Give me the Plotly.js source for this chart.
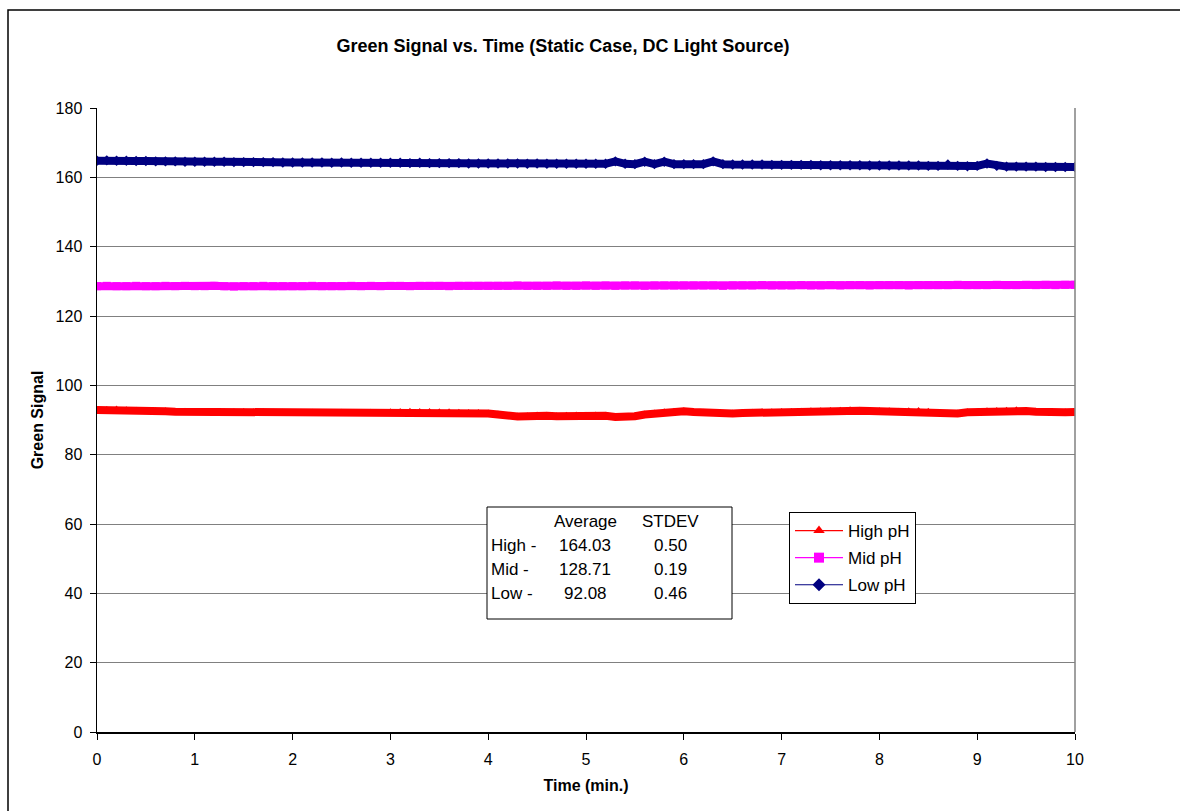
<!DOCTYPE html>
<html>
<head>
<meta charset="utf-8">
<script src="https://cdn.plot.ly/plotly-3.0.1.min.js"></script>
<style>html,body{margin:0;padding:0;background:#fff;}#chart{width:1180px;height:811px;}</style>
</head>
<body>
<div id="chart"></div>
<script>
// Time in minutes
const timeMin = [
0.0,0.1,0.2,0.3,0.4,0.5,0.6,0.7,0.8,0.9,1.0,
1.1,1.2,1.3,1.4,1.5,1.6,1.7,1.8,1.9,2.0,
2.1,2.2,2.3,2.4,2.5,2.6,2.7,2.8,2.9,3.0,
3.1,3.2,3.3,3.4,3.5,3.6,3.7,3.8,3.9,4.0,
4.1,4.2,4.3,4.4,4.5,4.6,4.7,4.8,4.9,5.0,
5.1,5.2,5.3,5.4,5.5,5.6,5.7,5.8,5.9,6.0,
6.1,6.2,6.3,6.4,6.5,6.6,6.7,6.8,6.9,7.0,
7.1,7.2,7.3,7.4,7.5,7.6,7.7,7.8,7.9,8.0,
8.1,8.2,8.3,8.4,8.5,8.6,8.7,8.8,8.9,9.0,
9.1,9.2,9.3,9.4,9.5,9.6,9.7,9.8,9.9,10.0];

const highPH = [
92.9,92.9,93.0,92.8,92.7,92.6,92.5,92.5,92.4,92.4,92.3,
92.3,92.3,92.2,92.2,92.3,92.2,92.2,92.1,92.1,92.0,
91.9,92.1,92.0,92.0,92.1,92.0,92.0,92.1,91.9,92.2,
92.3,92.4,92.3,92.3,92.2,92.2,92.1,92.0,92.0,91.9,
91.6,91.1,91.0,91.1,91.3,91.2,91.1,91.2,91.3,91.2,
91.3,91.2,90.9,90.8,91.1,91.6,91.9,92.2,92.4,92.5,
92.3,92.1,91.9,91.8,91.9,92.0,92.1,92.2,92.2,92.3,
92.3,92.4,92.5,92.5,92.6,92.7,92.8,92.7,92.6,92.5,
92.5,92.4,92.5,92.6,92.4,92.0,91.8,91.9,92.2,92.3,
92.5,92.6,92.7,92.8,92.6,92.4,92.2,92.1,92.2,92.3,91.9];

const midPH = [
128.6,128.7,128.6,128.6,128.7,128.6,128.6,128.7,128.6,128.7,128.6,
128.6,128.7,128.6,128.5,128.6,128.6,128.7,128.6,128.6,128.6,
128.6,128.7,128.6,128.6,128.6,128.7,128.6,128.7,128.6,128.7,
128.7,128.6,128.7,128.7,128.7,128.6,128.7,128.7,128.7,128.7,
128.7,128.7,128.8,128.7,128.7,128.7,128.8,128.7,128.7,128.8,
128.7,128.8,128.7,128.8,128.8,128.7,128.8,128.8,128.8,128.8,
128.8,128.8,128.8,128.7,128.8,128.8,128.8,128.9,128.8,128.8,
128.8,128.9,128.8,128.8,128.9,128.8,128.9,128.9,128.8,128.9,
128.9,128.9,128.8,128.9,128.9,128.9,128.9,129.0,128.9,128.9,
128.9,129.0,128.9,128.9,129.0,128.9,129.0,128.9,129.0,129.0,128.9];

const lowPH = [
164.8,164.9,164.8,164.8,164.7,164.7,164.6,164.6,164.6,164.5,164.5,
164.5,164.5,164.5,164.4,164.4,164.4,164.4,164.4,164.3,164.3,
164.3,164.3,164.3,164.2,164.3,164.2,164.2,164.2,164.2,164.2,
164.2,164.1,164.2,164.1,164.1,164.1,164.1,164.0,164.0,164.0,
164.0,164.0,164.0,163.9,164.0,163.9,163.9,163.9,163.9,163.9,
163.9,163.9,164.6,163.9,163.8,164.5,163.8,164.5,163.8,163.8,
163.8,163.8,164.6,163.8,163.7,163.7,163.7,163.7,163.6,163.6,
163.6,163.6,163.6,163.5,163.5,163.5,163.5,163.5,163.4,163.4,
163.4,163.4,163.4,163.4,163.3,163.3,163.7,163.3,163.2,163.3,
164.0,163.3,163.1,163.1,163.1,163.1,163.0,163.0,163.0,163.0,163.0];

const seriesNames = ['High pH', 'Mid pH', 'Low pH'];
const seriesColors = ['#FF0000', '#FF00FF', '#000080'];
const seriesSymbols = ['triangle-up', 'square', 'diamond'];
const seriesData = [highPH, midPH, lowPH];

// Statistics text box
const statHeader = ['Average', 'STDEV'];
const statLabels = ['High -', 'Mid -', 'Low -'];
const statAvg = ['164.03', '128.71', '92.08'];
const statStd = ['0.50', '0.19', '0.46'];

const FONT = 'Liberation Sans, Arial, sans-serif';
const W = 1180, H = 811, L = 97, R = 105, T = 108, B = 79;
const pw = W - L - R, ph = H - T - B;
const px = x => (x - L) / pw;
const py = y => (H - B - y) / ph;

const traces = [];
for (let i = 2; i >= 0; i--) {
  traces.push({
    x: timeMin, y: seriesData[i], type: 'scatter', mode: 'lines+markers',
    name: seriesNames[i], legendgroup: 'g' + i, showlegend: false,
    line: {color: seriesColors[i], width: 8},
    marker: {color: seriesColors[i], symbol: seriesSymbols[i], size: 8},
    hoverinfo: 'skip'
  });
}
for (let i = 0; i < 3; i++) {
  traces.push({
    x: [null], y: [null], type: 'scatter', mode: 'lines+markers',
    name: seriesNames[i], legendgroup: 'g' + i, showlegend: true,
    line: {color: seriesColors[i], width: 1.2},
    marker: {color: seriesColors[i], symbol: seriesSymbols[i], size: 10}
  });
}

const annotations = [];
const colAvgX = 585, colStdX = 670, colLabX = 489;
const rowY = [521, 545, 569, 593];
const tf = {family: FONT, size: 17, color: '#000'};
annotations.push({xref:'paper', yref:'paper', x:px(colAvgX), y:py(rowY[0]), text:statHeader[0], showarrow:false, xanchor:'center', yanchor:'middle', font:tf});
annotations.push({xref:'paper', yref:'paper', x:px(colStdX), y:py(rowY[0]), text:statHeader[1], showarrow:false, xanchor:'center', yanchor:'middle', font:tf});
for (let r = 0; r < 3; r++) {
  annotations.push({xref:'paper', yref:'paper', x:px(colLabX), y:py(rowY[r+1]), text:statLabels[r], showarrow:false, xanchor:'left', yanchor:'middle', font:tf});
  annotations.push({xref:'paper', yref:'paper', x:px(colAvgX), y:py(rowY[r+1]), text:statAvg[r], showarrow:false, xanchor:'center', yanchor:'middle', font:tf});
  annotations.push({xref:'paper', yref:'paper', x:px(colStdX), y:py(rowY[r+1]), text:statStd[r], showarrow:false, xanchor:'center', yanchor:'middle', font:tf});
}

const shapes = [
  {type:'rect', xref:'paper', yref:'paper', x0:px(8), x1:px(1200), y0:py(830), y1:py(10), line:{color:'#000', width:1.5}, fillcolor:'rgba(0,0,0,0)', layer:'below'},
  {type:'line', xref:'paper', yref:'paper', x0:1, x1:1, y0:0, y1:1, line:{color:'#808080', width:1.5}},
  {type:'rect', xref:'paper', yref:'paper', x0:px(487), x1:px(732), y0:py(619), y1:py(507), line:{color:'#000', width:1}, fillcolor:'#fff'}
];

const layout = {
  width: W, height: H,
  margin: {l: L, r: R, t: T, b: B, pad: 0},
  paper_bgcolor: '#fff', plot_bgcolor: '#fff',
  font: {family: FONT, size: 16, color: '#000'},
  title: {text: '<b>Green Signal vs. Time (Static Case, DC Light Source)</b>', font: {family: FONT, size: 18, color: '#000'}, xref: 'paper', x: px(563), xanchor: 'center', y: 1 - 46 / H, yanchor: 'middle'},
  xaxis: {
    range: [0, 10], dtick: 1, tick0: 0, showgrid: false, zeroline: false,
    showline: true, linecolor: '#000', linewidth: 1.5,
    ticks: 'outside', ticklen: 6, tickcolor: '#000', tickwidth: 1,
    ticklabelstandoff: 6,
    tickfont: {family: FONT, size: 16, color: '#000'},
    title: {text: '<b>Time (min.)</b>', font: {family: FONT, size: 16, color: '#000'}, standoff: 13}
  },
  yaxis: {
    range: [0, 180], dtick: 20, tick0: 0, showgrid: true, gridcolor: '#808080', gridwidth: 1, zeroline: false,
    showline: true, linecolor: '#000', linewidth: 1.5,
    ticks: 'outside', ticklen: 6, tickcolor: '#000', tickwidth: 1,
    ticklabelstandoff: 4,
    tickfont: {family: FONT, size: 16, color: '#000'},
    title: {text: '<b>Green Signal</b>', font: {family: FONT, size: 16, color: '#000'}, standoff: 8}
  },
  legend: {
    x: px(789), y: py(512), xanchor: 'left', yanchor: 'top',
    bgcolor: '#fff', bordercolor: '#000', borderwidth: 1,
    font: {family: FONT, size: 17, color: '#000'},
    traceorder: 'grouped', tracegroupgap: 2, itemwidth: 48
  },
  shapes: shapes,
  annotations: annotations,
  showlegend: true
};

Plotly.newPlot('chart', traces, layout, {displayModeBar: false, staticPlot: true});
</script>
</body>
</html>
